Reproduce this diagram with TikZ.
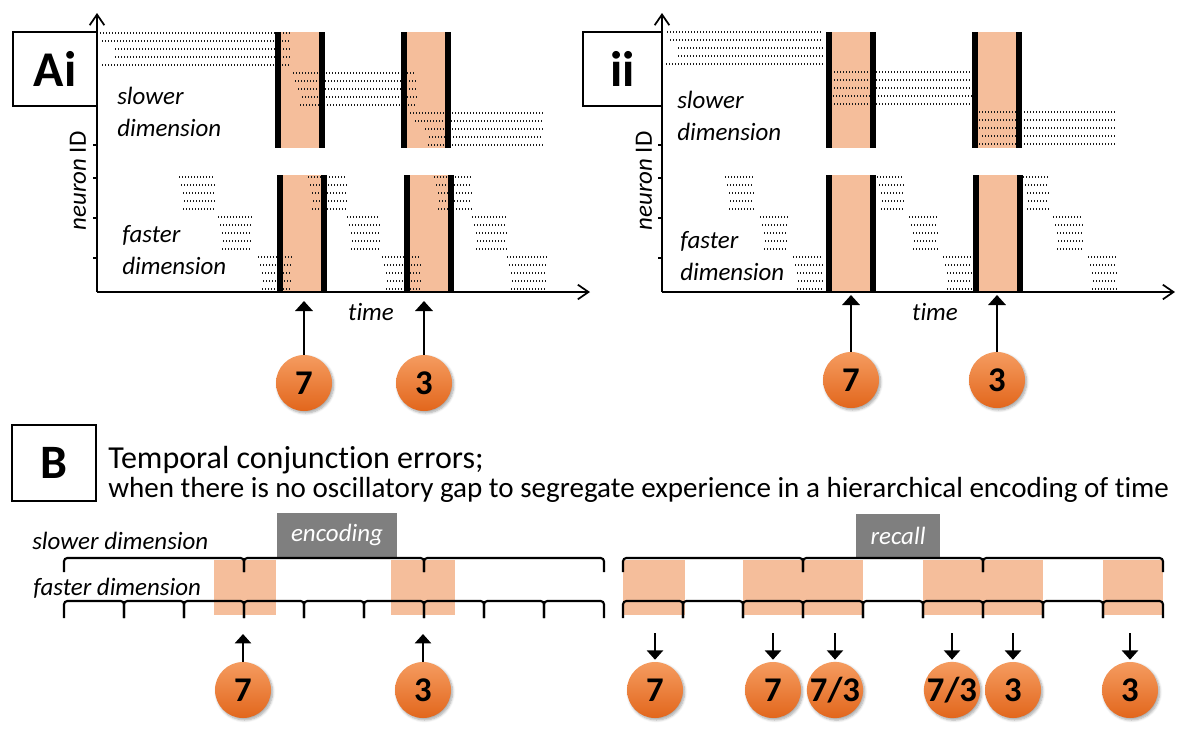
\documentclass[tikz,border=0pt]{standalone}
\usepackage{fontspec}
\setmainfont{Carlito}[Ligatures=CommonOff]
\usetikzlibrary{arrows.meta,positioning,shadows.blur}
\definecolor{Salmon}{HTML}{F5BE9B}
\definecolor{Slate}{HTML}{7F7F7F}
\definecolor{BallTop}{HTML}{F59C60}
\definecolor{BallBot}{HTML}{E2661C}
\newcommand{\labsize}{\fontsize{18.7}{24}\selectfont}
\newcommand{\spkgrp}[3]{%
  \foreach \k/\o in {0/0,1/2,2/4,3/5,4/4}{\draw[spk] (#2+\o,#1+8*\k) -- (#3,#1+8*\k);}}
\tikzset{
  spk/.style={line width=0.9pt,dash pattern=on 0.75pt off 1.5pt,draw=black!90},
  axisline/.style={line width=1.5pt,-{Straight Barb[length=8pt,width=11pt,line width=1.3pt]}},
  tickline/.style={line width=0.8pt},
  tag/.style={draw,line width=1.1pt,fill=white,font=\fontsize{37.5}{40}\selectfont\bfseries},
  lbl/.style={font=\labsize,inner sep=0pt},
  ilbl/.style={lbl,font=\labsize\itshape,align=left},
  ball/.style={circle,minimum size=42pt,inner sep=0pt,top color=BallTop,bottom color=BallBot,
    font=\fontsize{26}{26}\selectfont\bfseries,
    blur shadow={shadow xshift=1.2pt,shadow yshift=-1.5pt,shadow blur steps=6,shadow opacity=35}},
  uparr/.style={-{Triangle[length=7.5pt,width=13pt]},line width=2.1pt},
  barr/.style={-{Triangle[length=7pt,width=12pt]},line width=2pt},
  brk/.style={line width=1.6pt,rounded corners=2.5pt},
  phase/.style={fill=Slate,text=white,font=\labsize\itshape,inner sep=0pt}
}
\begin{document}
\begin{tikzpicture}[x=0.75pt,y=-0.75pt]
  \useasboundingbox (0,0) rectangle (1200,733);

  % Panel Ai: gates, spikes, axes
  \foreach \xg/\ya/\yb in {275/32/148,401/32/148,277/175/292,404/175/292,
                          826/32/148,972/32/148,826/175/292,973/175/292}{
    \fill[Salmon] (\xg,\ya) rectangle (\xg+50,\yb);}
  \foreach \yy/\xa/\xb in {33/100/292,41/102/289,49/115/290,57/115/290,65/102/291,
                           73/293/415,81/295/417,89/298/418,97/302/417,105/300/417,
                           113/410/543,121/415/544,129/425/544,137/429/543,145/428/544}{
    \draw[spk] (\xa,\yy) -- (\xb,\yy);}
  \foreach \yy/\xa/\xb in {177/179/215,217/218/252,257/258/292,
                           177/308/347,217/347/380,257/382/421,
                           177/434/472,217/472/507,257/507/547}{\spkgrp{\yy}{\xa}{\xb}}

  % Panel ii: spikes
  \foreach \yy/\xa/\xb in {32/667/823,40/670/823,48/678/823,56/678/823,64/666/823,
                           72/831/972,80/831/970,88/831/971,96/833/972,104/831/971,
                           112/979/1115,120/979/1116,128/979/1117,136/982/1115,144/979/1117}{
    \draw[spk] (\xa,\yy) -- (\xb,\yy);}
  \foreach \yy/\xa/\xb in {177/725/754,217/760/788,257/793/823,
                           177/877/904,217/909/938,257/943/972,
                           177/1023/1049,217/1053/1083,257/1088/1117}{\spkgrp{\yy}{\xa}{\xb}}

  % black gate edges
  \foreach \xg/\ya/\yb in {275/32/148,401/32/148,277/175/292,404/175/292,
                          826/32/148,972/32/148,826/175/292,973/175/292}{
    \fill (\xg,\ya) rectangle (\xg+6,\yb);
    \fill (\xg+44,\ya) rectangle (\xg+50,\yb);}

  % axes
  \foreach \p/\ox/\xe in {Ai/97/590,ii/662/1175}{
    \coordinate (o\p) at (\ox,292);
    \coordinate (y\p) at (\ox,13);
    \coordinate (x\p) at (\xe,292);
    \draw[axisline] (o\p) -- (y\p);
    \draw[axisline] (o\p) -- (x\p);
    \foreach \t in {105,145,178,218,258}{\draw[tickline] (\ox-4,\t) -- (\ox,\t);}
  }

  \node[tag,minimum width=63pt,minimum height=55.5pt] (tagAi) at (55,69) {Ai};
  \node[tag,minimum width=59pt,minimum height=55.5pt] (tagii) at (622.5,69) {ii};

  \node[ilbl,anchor=west] (slowAi) at (117,112) {slower\\dimension};
  \node[ilbl,anchor=west] (fastAi) at (122,250) {faster\\dimension};
  \node[ilbl,anchor=west] (slowii) at (677,116) {slower\\dimension};
  \node[ilbl,anchor=west] (fastii) at (680,256) {faster\\dimension};
  \node[lbl,rotate=90] (nidAi) at (78,181) {\textit{neuron} ID};
  \node[lbl,rotate=90] (nidii) at (644,181) {\textit{neuron} ID};
  \node[ilbl] (timeAi) at (371,312) {time};
  \node[ilbl] (timeii) at (935,312) {time};

  \node[ball] (cAi7) at (304,383) {7};
  \node[ball] (cAi3) at (424,383) {3};
  \node[ball] (cii7) at (851,380) {7};
  \node[ball] (cii3) at (997,380) {3};
  \coordinate (hAi7) at (304,301);
  \coordinate (hAi3) at (424,301);
  \coordinate (hii7) at (851,295);
  \coordinate (hii3) at (997,295);
  \draw[uparr] (cAi7) -- (hAi7);
  \draw[uparr] (cAi3) -- (hAi3);
  \draw[uparr] (cii7) -- (hii7);
  \draw[uparr] (cii3) -- (hii3);

  % Panel B: title
  \node[tag,minimum width=63pt,minimum height=57pt,font=\fontsize{36}{40}\selectfont\bfseries] (tagB) at (54,463) {B};
  \node[anchor=base west,inner sep=0pt,font=\fontsize{24}{28}\selectfont] (ttlB) at (108,468) {Temporal conjunction errors;};
  \node[anchor=base west,inner sep=0pt,font=\fontsize{21.8}{26}\selectfont] (subB) at (108,497) {when there is no oscillatory gap to segregate experience in a hierarchical encoding of time};

  % Panel B: timelines
  \foreach \xa/\xb in {214/276,391/455,623/685,743/863,923/1043,1103/1163}{
    \fill[Salmon] (\xa,560) rectangle (\xb,615);}
  \node[phase,minimum width=90pt,minimum height=33pt] (enc) at (337,535) {encoding};
  \node[phase,minimum width=63pt,minimum height=32.3pt] (rec) at (898,535.5) {recall};
  \foreach \xa in {64,244,424,623,803,983}{
    \draw[brk] (\xa,572) -- (\xa,558) -- (\xa+180,558) -- (\xa+180,572);}
  \foreach \i in {0,...,8}{
    \draw[brk] (64+60*\i,618) -- (64+60*\i,601) -- (124+60*\i,601) -- (124+60*\i,618);
    \draw[brk] (623+60*\i,618) -- (623+60*\i,601) -- (683+60*\i,601) -- (683+60*\i,618);}
  \node[ilbl,anchor=west] (slowB) at (32,541) {slower dimension};
  \node[ilbl,anchor=west] (fastB) at (33,588) {faster dimension};

  \node[ball] (e7) at (243,690) {7};
  \node[ball] (e3) at (423,690) {3};
  \coordinate (e7h) at (243,634);
  \coordinate (e3h) at (423,634);
  \draw[barr] (e7) -- (e7h);
  \draw[barr] (e3) -- (e3h);
  \foreach \n/\xx/\lab in {r1/655/7,r2/773/7,r3/835/{7/3},r4/952/{7/3},r5/1013/3,r6/1130/3}{
    \node[ball] (\n) at (\xx,690) {\lab};
    \coordinate (\n t) at (\xx,633);
    \draw[barr,shorten >=1.5pt] (\n t) -- (\n);}
\end{tikzpicture}
\end{document}
